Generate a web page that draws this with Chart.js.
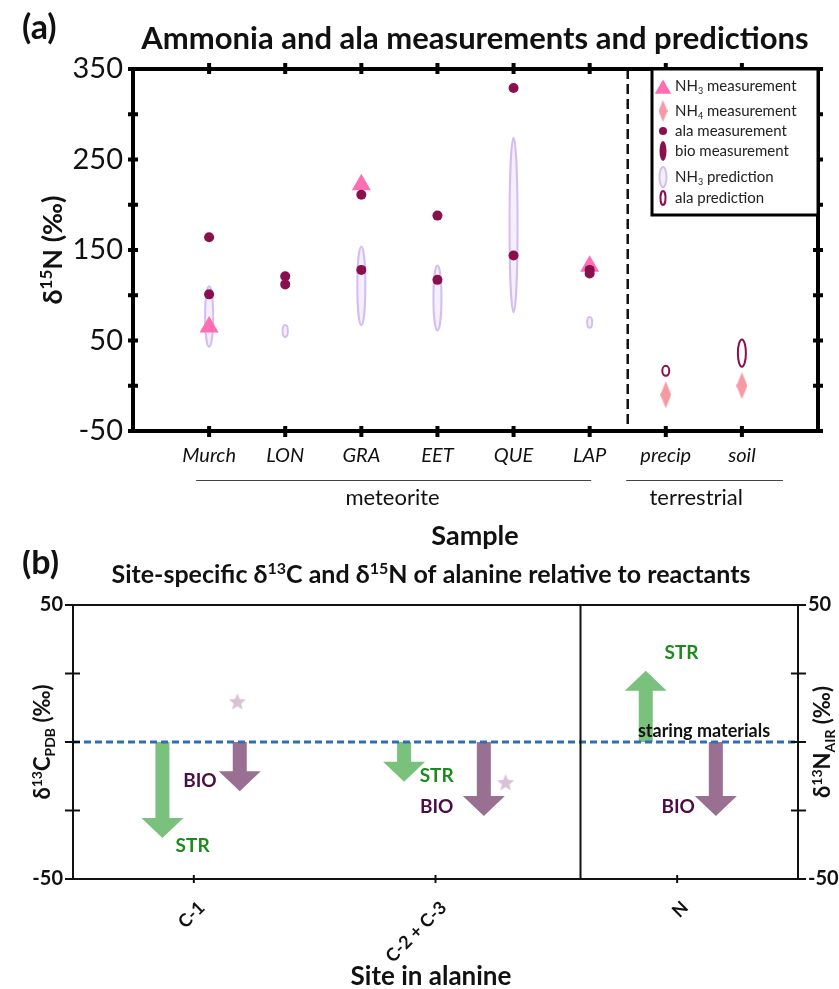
<!DOCTYPE html>
<html>
<head>
<meta charset="utf-8">
<title>Ammonia and ala measurements and predictions</title>
<script src="https://cdn.jsdelivr.net/npm/chart.js@4.4.1/dist/chart.umd.min.js"></script>
<style>
  body { margin: 0; background: #fff; }
  #wrap { position: relative; width: 839px; height: 989px; }
  canvas { position: absolute; left: 0; }
  #chartA { top: 0; }
  #chartB { top: 550px; }
</style>
</head>
<body>
<div id="wrap">
  <canvas id="chartA" width="839" height="550"></canvas>
  <canvas id="chartB" width="839" height="439"></canvas>
</div>
<script>
// ---------- DATA : panel (a) ----------
const samples = ["Murch", "LON", "GRA", "EET", "QUE", "LAP", "precip", "soil"];
const nh3Measured = [65, null, 222, null, null, 132, null, null];
const nh4Measured = [null, null, null, null, null, null, -10, 0];
const alaMeasuredA = [164, 121, 211, 188, 329, 128, null, null];
const alaMeasuredB = [101, 112, 128, 117, 144, 124, null, null];
const nh3PredLow = [43, 54, 67, 61, 81, 64, null, null];
const nh3PredHigh = [110, 67, 154, 133, 274, 76, null, null];
const alaPredLow = [null, null, null, null, null, null, 11, 21];
const alaPredHigh = [null, null, null, null, null, null, 22, 51];
const yLabelsA = [350, 250, 150, 50, -50];
const groupNames = ["meteorite", "terrestrial"];
const groupFrom = [0.83, 6.48];
const groupTo = [6.02, 8.54];

// ---------- DATA : panel (b) ----------
const sites = ["C-1", "C-2 + C-3", "N"];
const strChange = [-35, -14.5, 26];
const bioChange = [-18, -27, -27];
const starValue = [14.5, -15, null];
const yLabelsB = [50, -50];

// ---------- STYLE ----------
const FONT = "Lato, 'Open Sans', sans-serif";
const MAROON = "#8A0F4D";
const PINK = "#FF6EB4";
const ROSE = "#F59AA3";
const LILAC = "#D4BEF0";
const LILAC_FILL = "#F4EFFA";
const GREEN = "#7BC17E";
const MAUVE = "#997091";
const GREEN_TEXT = "#1B8C1B";
const PURPLE_TEXT = "#4A0E44";

// x offsets of the two arrows / star around each site (layout only)
const ARROW_OFFSET = { str: [-0.13, -0.13, -0.13], bio: [0.19, 0.2, 0.16], star: [0.18, 0.29, 0] };
// where the group names sit on the x axis of panel (a)
const GROUP_LABEL_X = [3.41, 7.4];

function pts(values) {
  const out = [];
  values.forEach((v, i) => { if (v !== null) out.push({ x: i + 1, y: v }); });
  return out;
}

function diamondCanvas(w, h, color) {
  const c = document.createElement("canvas");
  c.width = w; c.height = h;
  const g = c.getContext("2d");
  g.fillStyle = color;
  g.beginPath();
  g.moveTo(w / 2, 0); g.lineTo(w, h / 2); g.lineTo(w / 2, h); g.lineTo(0, h / 2);
  g.closePath(); g.fill();
  return c;
}

function starCanvas(r, color) {
  const c = document.createElement("canvas");
  c.width = c.height = 2 * r + 2;
  const g = c.getContext("2d");
  g.fillStyle = color;
  g.beginPath();
  for (let k = 0; k < 10; k++) {
    const rr = k % 2 ? r * 0.45 : r;
    const a = -Math.PI / 2 + k * Math.PI / 5;
    g.lineTo(r + 1 + rr * Math.cos(a), r + 1 + rr * Math.sin(a));
  }
  g.closePath(); g.fill();
  return c;
}

// text with super / subscripts, y = baseline
function richText(ctx, parts, x, y, size, weight, align, color) {
  ctx.save();
  ctx.fillStyle = color || "#111";
  ctx.textBaseline = "alphabetic";
  ctx.textAlign = "left";
  const items = parts.map(p => {
    const kind = p[1] || "";
    const s = kind ? Math.round(size * 0.62) : size;
    ctx.font = weight + " " + s + "px " + FONT;
    return { t: p[0], kind: kind, s: s, w: ctx.measureText(p[0]).width };
  });
  const total = items.reduce((a, it) => a + it.w, 0);
  let cx = align === "center" ? x - total / 2 : align === "right" ? x - total : x;
  items.forEach(it => {
    ctx.font = weight + " " + it.s + "px " + FONT;
    const dy = it.kind === "sup" ? -size * 0.36 : it.kind === "sub" ? size * 0.22 : 0;
    ctx.fillText(it.t, cx, y + dy);
    cx += it.w;
  });
  ctx.restore();
}

function rotatedText(ctx, parts, cx, cy, size, weight) {
  ctx.save();
  ctx.translate(cx, cy);
  ctx.rotate(-Math.PI / 2);
  richText(ctx, parts, 0, size * 0.36, size, weight, "center");
  ctx.restore();
}

function line(ctx, x1, y1, x2, y2) {
  ctx.beginPath(); ctx.moveTo(x1, y1); ctx.lineTo(x2, y2); ctx.stroke();
}

function drawEllipse(ctx, x, top, bot, w, fill, stroke) {
  ctx.beginPath();
  ctx.ellipse(x, (top + bot) / 2, w / 2, (bot - top) / 2, 0, 0, 2 * Math.PI);
  if (fill) { ctx.fillStyle = fill; ctx.fill(); }
  ctx.lineWidth = 2; ctx.strokeStyle = stroke; ctx.stroke();
}

function triangle(ctx, x, y, r, color) {
  ctx.beginPath();
  for (let k = 0; k < 3; k++) {
    const a = k * 2 * Math.PI / 3;
    ctx.lineTo(x + r * Math.sin(a), y - r * Math.cos(a));
  }
  ctx.closePath(); ctx.fillStyle = color; ctx.fill();
}

/* ---------------------------------------------- */
/*                    PANEL (a)                   */
/* ---------------------------------------------- */
const predictionPlugin = {
  id: "predictions",
  beforeDatasetsDraw(chart) {
    const { ctx, chartArea: a, scales: { x, y } } = chart;
    ctx.save();
    // divider between meteorite and terrestrial samples
    ctx.strokeStyle = "#111"; ctx.lineWidth = 2.5; ctx.setLineDash([10, 5]);
    const dx = x.getPixelForValue(6.5);
    line(ctx, dx, a.top, dx, a.bottom);
    ctx.setLineDash([]);
    samples.forEach((s, i) => {
      const px = x.getPixelForValue(i + 1);
      if (nh3PredLow[i] !== null) {
        const top = y.getPixelForValue(nh3PredHigh[i]), bot = y.getPixelForValue(nh3PredLow[i]);
        drawEllipse(ctx, px, top, bot, Math.min(8, (bot - top) * 0.45), LILAC_FILL, LILAC);
      }
      if (alaPredLow[i] !== null) {
        const top = y.getPixelForValue(alaPredHigh[i]), bot = y.getPixelForValue(alaPredLow[i]);
        drawEllipse(ctx, px, top, bot, Math.min(8, (bot - top) * 0.7), null, MAROON);
      }
    });
    ctx.restore();
  }
};

const frameA = {
  id: "frameA",
  afterDatasetsDraw(chart) {
    const { ctx, chartArea: a, scales: { x, y } } = chart;
    ctx.save();
    ctx.strokeStyle = "#000";
    ctx.lineWidth = 4;
    ctx.strokeRect(a.left, a.top, a.right - a.left, a.bottom - a.top);
    for (let v = -50; v <= 350; v += 50) {
      const py = y.getPixelForValue(v);
      line(ctx, a.left - 5, py, a.left + 5, py);
      line(ctx, a.right - 5, py, a.right + 5, py);
    }
    samples.forEach((s, i) => {
      const px = x.getPixelForValue(i + 1);
      line(ctx, px, a.bottom - 5, px, a.bottom + 6);
      line(ctx, px, a.top - 6, px, a.top + 5);
    });

    // legend box
    const lx = a.right - 166, ly = a.top, lw = 166, lh = 146;
    ctx.fillStyle = "#fff";
    ctx.fillRect(lx, ly, lw, lh);
    ctx.lineWidth = 3;
    ctx.strokeRect(lx, ly, lw, lh);
    const mx = lx + 11, tx = lx + 23;
    triangle(ctx, mx, 89, 9.5, PINK);
    ctx.drawImage(diamondCanvas(9, 22, ROSE), mx - 4.5, 100);
    ctx.beginPath(); ctx.arc(mx, 131, 4, 0, 2 * Math.PI); ctx.fillStyle = MAROON; ctx.fill();
    ctx.beginPath(); ctx.ellipse(mx, 151, 3.5, 10, 0, 0, 2 * Math.PI); ctx.fill();
    drawEllipse(ctx, mx, 167, 187, 7, LILAC_FILL, LILAC);
    drawEllipse(ctx, mx, 191, 205, 5, null, MAROON);
    const rows = [
      [["NH"], ["3", "sub"], [" measurement"]],
      [["NH"], ["4", "sub"], [" measurement"]],
      [["ala measurement"]],
      [["bio measurement"]],
      [["NH"], ["3", "sub"], [" prediction"]],
      [["ala prediction"]]
    ];
    const rowY = [86, 111, 131, 151, 177, 198];
    rows.forEach((r, i) => richText(ctx, r, tx, rowY[i] + 5, 15, "normal", "left", "#222"));
    ctx.restore();
  },
  afterDraw(chart) {
    const { ctx, chartArea: a, scales: { x } } = chart;
    ctx.save();
    richText(ctx, [["(a)"]], 22, 39, 34, "bold", "left", "#111");
    richText(ctx, [["Ammonia and ala measurements and predictions"]], 475, 49, 31, "bold", "center", "#111");
    rotatedText(ctx, [["δ"], ["15", "sup"], ["N (‰)"]], 52, (a.top + a.bottom) / 2, 27, "bold");
    ctx.strokeStyle = "#444"; ctx.lineWidth = 1;
    groupNames.forEach((g, i) => {
      const x1 = x.getPixelForValue(groupFrom[i]), x2 = x.getPixelForValue(groupTo[i]);
      line(ctx, x1, 480.5, x2, 480.5);
      richText(ctx, [[g]], x.getPixelForValue(GROUP_LABEL_X[i]), 505, 22, "normal", "center", "#111");
    });
    richText(ctx, [["Sample"]], 475, 545, 27, "bold", "center", "#111");
    ctx.restore();
  }
};

new Chart(document.getElementById("chartA"), {
  type: "scatter",
  data: {
    datasets: [
      { label: "ala measurement", data: pts(alaMeasuredA).concat(pts(alaMeasuredB)),
        pointStyle: "circle", pointRadius: 5, backgroundColor: MAROON, borderWidth: 0 },
      { label: "NH3 measurement", data: pts(nh3Measured),
        pointStyle: "triangle", pointRadius: 11, backgroundColor: PINK, borderWidth: 0 },
      { label: "NH4 measurement", data: pts(nh4Measured),
        pointStyle: diamondCanvas(11, 27, ROSE), pointRadius: 6 }
    ]
  },
  options: {
    responsive: false,
    animation: false,
    events: [],
    layout: { padding: { top: 69, right: 21, left: 0, bottom: 0 } },
    plugins: { legend: { display: false }, tooltip: { enabled: false } },
    scales: {
      x: {
        type: "linear", min: 0, max: 9,
        afterFit: s => { s.height = 119; },
        grid: { display: false, drawTicks: false },
        border: { display: false },
        ticks: {
          stepSize: 1, autoSkip: false, maxRotation: 0, padding: 13, color: "#111",
          font: { family: FONT, size: 20, style: "italic" },
          callback: v => samples[v - 1] || ""
        }
      },
      y: {
        min: -50, max: 350,
        afterFit: s => { s.width = 133; },
        grid: { display: false, drawTicks: false },
        border: { display: false },
        ticks: {
          stepSize: 50, padding: 10, color: "#111",
          font: { family: FONT, size: 29 },
          callback: v => yLabelsA.includes(v) ? v : ""
        }
      }
    }
  },
  plugins: [predictionPlugin, frameA]
});

/* ---------------------------------------------- */
/*                    PANEL (b)                   */
/* ---------------------------------------------- */
function drawArrow(ctx, x, y0, y1, color) {
  const dir = y1 > y0 ? 1 : -1;
  const head = 20, hw = 21, sw = 7;
  const yh = y1 - dir * head;
  ctx.beginPath();
  ctx.moveTo(x - sw, y0); ctx.lineTo(x + sw, y0); ctx.lineTo(x + sw, yh);
  ctx.lineTo(x + hw, yh); ctx.lineTo(x, y1); ctx.lineTo(x - hw, yh);
  ctx.lineTo(x - sw, yh); ctx.closePath();
  ctx.fillStyle = color; ctx.fill();
}

const notesB = [
  { text: "STR", x: 0.495, y: -37.6, color: GREEN_TEXT },
  { text: "BIO", x: 0.525, y: -13.9, color: PURPLE_TEXT },
  { text: "STR", x: 1.505, y: -12.1, color: GREEN_TEXT },
  { text: "BIO", x: 1.505, y: -23.4, color: PURPLE_TEXT },
  { text: "STR", x: 2.518, y: 32.8, color: GREEN_TEXT },
  { text: "BIO", x: 2.504, y: -23.4, color: PURPLE_TEXT },
  { text: "staring materials", x: 2.611, y: 4.3, color: "#111", size: 18 }
];

const arrowsB = {
  id: "arrowsB",
  beforeDatasetsDraw(chart) {
    const { ctx, scales: { x, y } } = chart;
    ctx.save();
    const y0 = y.getPixelForValue(0);
    sites.forEach((s, i) => {
      drawArrow(ctx, x.getPixelForValue(i + 0.5 + ARROW_OFFSET.str[i]), y0, y.getPixelForValue(strChange[i]), GREEN);
      drawArrow(ctx, x.getPixelForValue(i + 0.5 + ARROW_OFFSET.bio[i]), y0, y.getPixelForValue(bioChange[i]), MAUVE);
    });
    ctx.restore();
  },
  afterDatasetsDraw(chart) {
    const { ctx, chartArea: a, scales: { x, y } } = chart;
    ctx.save();
    // starting-material reference line
    ctx.strokeStyle = "#2F6EB5"; ctx.lineWidth = 3; ctx.setLineDash([7, 4]);
    const y0 = y.getPixelForValue(0);
    line(ctx, a.left, y0, a.right, y0);
    ctx.setLineDash([]);
    notesB.forEach(n => {
      const size = n.size || 19;
      richText(ctx, [[n.text]], x.getPixelForValue(n.x), y.getPixelForValue(n.y) + size * 0.36, size, "bold", "center", n.color);
    });
    // frame
    ctx.strokeStyle = "#111"; ctx.lineWidth = 2;
    ctx.strokeRect(a.left, a.top, a.right - a.left, a.bottom - a.top);
    const sx = x.getPixelForValue(2.1);
    line(ctx, sx, a.top, sx, a.bottom);
    for (let v = -50; v <= 50; v += 25) {
      const py = y.getPixelForValue(v);
      line(ctx, a.left - 8, py, a.left + 7, py);
      line(ctx, a.right - 7, py, a.right + 8, py);
    }
    sites.forEach((s, i) => {
      const px = x.getPixelForValue(i + 0.5);
      line(ctx, px, a.bottom - 4, px, a.bottom + 4);
    });
    ctx.restore();
  },
  afterDraw(chart) {
    const { ctx, chartArea: a } = chart;
    const cy = (a.top + a.bottom) / 2;
    richText(ctx, [["(b)"]], 22, 24, 34, "bold", "left", "#111");
    richText(ctx, [["Site-specific δ"], ["13", "sup"], ["C and δ"], ["15", "sup"], ["N of alanine relative to reactants"]],
      431, 33, 25, "bold", "center", "#111");
    rotatedText(ctx, [["δ"], ["13", "sup"], ["C"], ["PDB", "sub"], [" (‰)"]], 42, cy, 22, "bold");
    rotatedText(ctx, [["δ"], ["13", "sup"], ["N"], ["AIR", "sub"], [" (‰)"]], 822, cy, 22, "bold");
    richText(ctx, [["Site in alanine"]], 431, 435, 26, "bold", "center", "#111");
  }
};

const starPts = [];
starValue.forEach((v, i) => { if (v !== null) starPts.push({ x: i + 0.5 + ARROW_OFFSET.star[i], y: v }); });

const sideAxisB = {
  min: -50, max: 50,
  grid: { display: false, drawTicks: false },
  border: { display: false },
  ticks: {
    stepSize: 25, padding: 10, color: "#111",
    font: { family: FONT, size: 20, weight: "bold" },
    callback: v => yLabelsB.includes(v) ? v : ""
  }
};

new Chart(document.getElementById("chartB"), {
  type: "scatter",
  data: {
    datasets: [
      { label: "star", data: starPts, pointStyle: starCanvas(9, "#D8C2D5"), pointRadius: 8 }
    ]
  },
  options: {
    responsive: false,
    animation: false,
    events: [],
    layout: { padding: { top: 55, left: 0, right: 0, bottom: 0 } },
    plugins: { legend: { display: false }, tooltip: { enabled: false } },
    scales: {
      x: {
        type: "linear", min: 0, max: 3,
        afterFit: s => { s.height = 110; },
        afterBuildTicks: s => { s.ticks = sites.map((_, i) => ({ value: i + 0.5 })); },
        grid: { display: false, drawTicks: false },
        border: { display: false },
        ticks: {
          autoSkip: false, minRotation: 45, maxRotation: 45, padding: 18, labelOffset: 8, color: "#111",
          font: { family: FONT, size: 18, weight: "bold" },
          callback: v => sites[Math.floor(v)]
        }
      },
      y: Object.assign({ position: "left", afterFit: s => { s.width = 73; } }, sideAxisB),
      y2: Object.assign({ position: "right", afterFit: s => { s.width = 41; } }, sideAxisB)
    }
  },
  plugins: [arrowsB]
});
</script>
</body>
</html>
